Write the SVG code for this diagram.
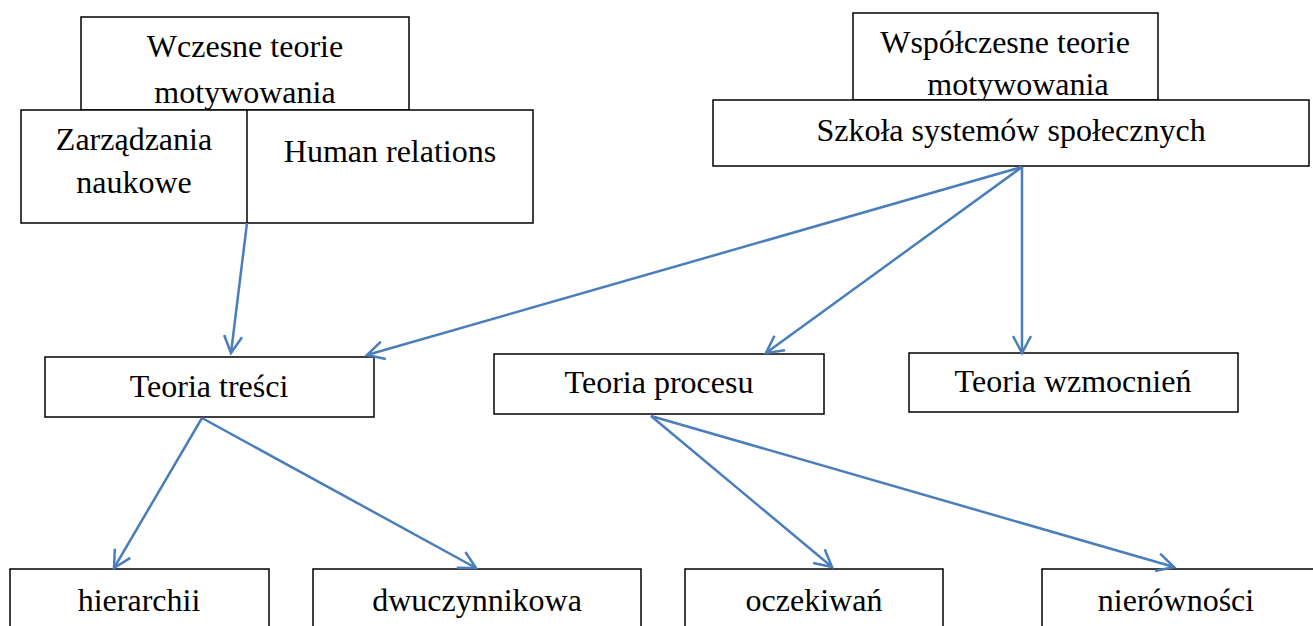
<svg xmlns="http://www.w3.org/2000/svg" width="1313" height="626" viewBox="0 0 1313 626">
  <style>
    .box { fill: #ffffff; stroke: #000000; stroke-width: 1.5; }
    .lbl { font-family: "Liberation Serif", "Times New Roman", serif; font-size: 32px; fill: #000000; text-anchor: middle; }
    .conn { stroke: #4a7ebb; stroke-width: 2.5; fill: none; marker-end: url(#head); }
  </style>
  <defs>
    <marker id="head" viewBox="-20 -12 24 24" markerWidth="24" markerHeight="24" refX="0" refY="0" markerUnits="userSpaceOnUse" orient="auto" overflow="visible">
      <path d="M -17,-9 L 0,0 L -17,9" fill="none" stroke="#4a7ebb" stroke-width="2.5" stroke-linejoin="miter"/>
    </marker>
  </defs>
  <rect width="1313" height="626" fill="#ffffff"/>

  <!-- early motivation theories -->
  <g id="wczesne">
    <rect class="box" x="81" y="17" width="328" height="93"/>
    <text class="lbl" x="245" y="57">Wczesne teorie</text>
    <text class="lbl" x="245" y="103">motywowania</text>
  </g>
  <g id="wczesne-szkoly">
    <rect class="box" x="21" y="110" width="512" height="113"/>
    <line x1="247" y1="110" x2="247" y2="223" stroke="#000" stroke-width="1.5"/>
    <text class="lbl" x="134" y="150">Zarządzania</text>
    <text class="lbl" x="134" y="193">naukowe</text>
    <text class="lbl" x="390" y="162">Human relations</text>
  </g>

  <!-- contemporary motivation theories -->
  <g id="wspolczesne">
    <rect class="box" x="853" y="13" width="305" height="87"/>
    <text class="lbl" x="1005" y="53">Współczesne teorie</text>
    <text class="lbl" x="1018" y="95">motywowania</text>
  </g>
  <g id="szkola-systemow">
    <rect class="box" x="713" y="100" width="596" height="66"/>
    <text class="lbl" x="1011" y="141">Szkoła systemów społecznych</text>
  </g>

  <!-- theory groups -->
  <g id="teoria-tresci">
    <rect class="box" x="45" y="357" width="329" height="60"/>
    <text class="lbl" x="209" y="397">Teoria treści</text>
  </g>
  <g id="teoria-procesu">
    <rect class="box" x="494" y="354" width="330" height="60"/>
    <text class="lbl" x="659" y="393">Teoria procesu</text>
  </g>
  <g id="teoria-wzmocnien">
    <rect class="box" x="909" y="353" width="329" height="59"/>
    <text class="lbl" x="1073" y="392">Teoria wzmocnień</text>
  </g>

  <!-- individual theories -->
  <g id="hierarchii">
    <rect class="box" x="10" y="569" width="259" height="70"/>
    <text class="lbl" x="139" y="611">hierarchii</text>
  </g>
  <g id="dwuczynnikowa">
    <rect class="box" x="313" y="569" width="328" height="70"/>
    <text class="lbl" x="477" y="611">dwuczynnikowa</text>
  </g>
  <g id="oczekiwan">
    <rect class="box" x="685" y="569" width="258" height="70"/>
    <text class="lbl" x="814" y="611">oczekiwań</text>
  </g>
  <g id="nierownosci">
    <rect class="box" x="1042" y="569" width="280" height="70"/>
    <text class="lbl" x="1176" y="611">nierówności</text>
  </g>

  <!-- connectors -->
  <g id="connectors">
    <line class="conn" x1="247" y1="223" x2="231" y2="353"/>
    <line class="conn" x1="1022" y1="167" x2="367" y2="355"/>
    <line class="conn" x1="1022" y1="167" x2="766" y2="353"/>
    <line class="conn" x1="1022" y1="167" x2="1022" y2="353"/>
    <line class="conn" x1="202" y1="418" x2="114" y2="568"/>
    <line class="conn" x1="202" y1="418" x2="476" y2="568"/>
    <line class="conn" x1="651" y1="416" x2="832" y2="567"/>
    <line class="conn" x1="651" y1="416" x2="1174" y2="567"/>
  </g>
</svg>
